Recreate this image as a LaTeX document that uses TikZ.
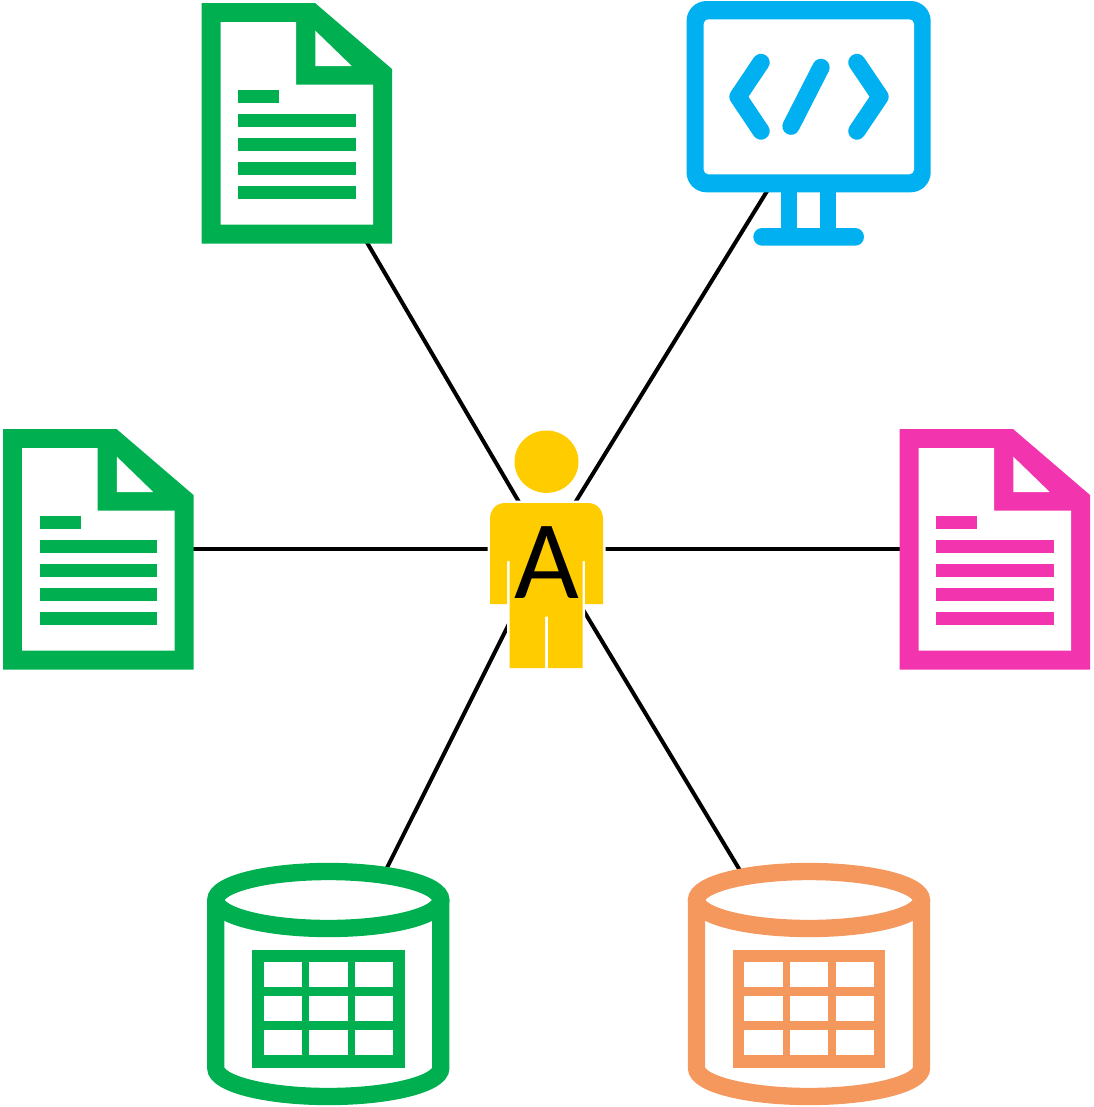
\documentclass[tikz,border=0pt]{standalone}
\usepackage{fontspec}
\setmainfont{Carlito}
\definecolor{dgreen}{HTML}{00B050}
\definecolor{dblue}{HTML}{00B0F0}
\definecolor{dpink}{HTML}{F234AE}
\definecolor{dorange}{HTML}{F4985E}
\definecolor{dyellow}{HTML}{FFCC00}
\tikzset{
  anchorpt/.style={inner sep=0pt,minimum size=0pt},
  linkline/.style={draw=black,line width=3pt},
  cylstroke/.style={line width=13pt},
  monstroke/.style={line width=13pt,line cap=round,line join=round},
}
% document icon: #1 dx, #2 dy, #3 colour
\newcommand{\docicon}[3]{%
  \begin{scope}[shift={(#1,#2)}]
    \fill[#3] (201.5,3) -- (315,3) -- (392,69) -- (392,243.5) -- (201.5,243.5) -- cycle;
    \fill[white] (220.7,22) -- (296,22) -- (296,84.7) -- (373,84.7) -- (373,224.7) -- (220.7,224.7) -- cycle;
    \fill[white] (315.3,30.7) -- (351.7,66) -- (315.3,66) -- cycle;
    \fill[#3] (238,90) rectangle (279,103);
    \foreach \yy in {114,138,162,186} {\fill[#3] (238,\yy) rectangle (355.5,\yy+13);}
  \end{scope}}
% database icon: #1 dx, #2 colour
\newcommand{\dbicon}[2]{%
  \begin{scope}[shift={(#1,0)}]
    \fill[white] (215.8,900) -- (215.8,1068) arc[start angle=180,end angle=360,x radius=112.5,y radius=28.5] -- (440.8,900) -- cycle;
    \draw[#2,cylstroke] (215.8,900) -- (215.8,1068) arc[start angle=180,end angle=360,x radius=112.5,y radius=-28.5] -- (440.8,900);
    \draw[#2,cylstroke,fill=white] (328.3,900) ellipse[x radius=112.5,y radius=28.5];
    \fill[#2] (252.3,950) rectangle (404.7,1067.7);
    \foreach \xa/\xb in {263.7/302,309.3/347.7,355/393.3} {
      \foreach \ya/\yb in {962.3/987.3,996.3/1021.3,1030/1055} {
        \fill[white] (\xa,\ya) rectangle (\xb,\yb);
      }
    }
  \end{scope}}
\newcommand{\bodypath}{(505,503) -- (588,503) .. controls (597,503) and (603,510) .. (603,519) -- (603,604) -- (585,604) -- (585,561) -- (582.7,561) -- (582.7,668) -- (548,668) -- (548,616.7) -- (545,616.7) -- (545,668) -- (509.7,668) -- (509.7,561) -- (507,561) -- (507,604) -- (490,604) -- (490,519) .. controls (490,510) and (496,503) .. (505,503) -- cycle}
\begin{document}
\begin{tikzpicture}[x=0.75pt,y=-0.75pt]
\useasboundingbox (0,0) rectangle (1093,1107);
% connection points
\node[anchorpt] (person) at (546.5,549) {};
\node[anchorpt] (docTop) at (297,123) {};
\node[anchorpt] (docLeft) at (98.5,549) {};
\node[anchorpt] (docRight) at (995,549) {};
\node[anchorpt] (monitor) at (809,123) {};
\node[anchorpt] (dbLeft) at (328.3,985) {};
\node[anchorpt] (dbRight) at (809,985) {};
% connectors
\foreach \target in {docTop,docLeft,docRight,monitor,dbLeft,dbRight}
  \draw[linkline] (person.center) -- (\target.center);
% documents
\docicon{0}{0}{dgreen}
\docicon{-198.5}{426}{dgreen}
\docicon{698}{426}{dpink}
% monitor
\fill[dblue,rounded corners=15pt] (686.5,1) rectangle (930.7,192.3);
\fill[white,rounded corners=3.5pt] (703.7,19.3) rectangle (914,174.3);
\fill[dblue] (781,190) rectangle (797.3,230);
\fill[dblue] (820,190) rectangle (836,230);
\fill[dblue,rounded corners=6.6pt] (753.3,228) rectangle (864,245.7);
\draw[dblue,monstroke] (761,62.5) -- (738,96.7) -- (761,131);
\draw[dblue,monstroke] (821,67.4) -- (791,126.2);
\draw[dblue,monstroke] (856.9,62.5) -- (880,96.7) -- (856.9,131);
% databases
\dbicon{0}{dgreen}
\dbicon{480.7}{dorange}
% person
\draw[white,line width=3.75pt,line join=miter] \bodypath;
\fill[dyellow] (546.5,461.7) ellipse[x radius=32,y radius=31.2];
\fill[dyellow] \bodypath;
\node[inner sep=0pt,font=\fontsize{84}{84}\selectfont,text=black] (personLabel) at (547,562.5) {A};
\end{tikzpicture}
\end{document}
